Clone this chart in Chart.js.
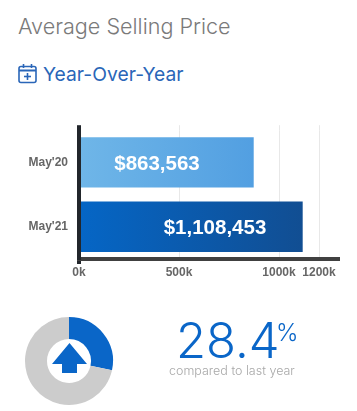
<!DOCTYPE html>
<html>
<head>
<meta charset="utf-8">
<script src="https://cdn.jsdelivr.net/npm/chart.js@4"></script>
<style>
  html, body { margin: 0; padding: 0; background: #fff; }
  body { position: relative; width: 357px; height: 411px; overflow: hidden; font-family: Inter, sans-serif; }
  .abs { position: absolute; white-space: nowrap; }
  #title { left: 18px; top: 13px; font-size: 21.6px; font-weight: 300; color: #7a7a7a; line-height: 26px; }
  #sub { left: 43px; top: 63px; font-size: 19.3px; font-weight: 400; color: #2a66b8; line-height: 22px; }
  #icon { left: 18px; top: 63px; }
  #barWrap { left: 0; top: 120px; width: 357px; height: 162px; }
  #pieWrap { left: 15px; top: 307px; width: 108px; height: 108px; }
  #arrow { left: 52px; top: 343px; }
  #pct { left: 176px; top: 311px; font-size: 49px; font-weight: 300; color: #0a66c8; line-height: 60px; }
  #pctSign { left: 276px; top: 318px; font-size: 24px; font-weight: 300; color: #0a66c8; line-height: 30px; }
  #note { left: 169px; top: 362px; font-size: 12.5px; font-weight: 300; color: #a8a8a8; line-height: 18px; }
</style>
</head>
<body>
<div class="abs" id="title">Average Selling Price</div>
<svg class="abs" id="icon" width="19" height="21" viewBox="0 0 19 21" fill="none" stroke="#2a66b8" stroke-width="1.6">
  <rect x="1" y="3.5" width="17" height="16" rx="2"/>
  <line x1="1" y1="7.5" x2="18" y2="7.5" stroke-width="2"/>
  <line x1="5.5" y1="1" x2="5.5" y2="5"/>
  <line x1="13.5" y1="1" x2="13.5" y2="5"/>
  <line x1="9.5" y1="10" x2="9.5" y2="17"/>
  <line x1="6" y1="13.5" x2="13" y2="13.5"/>
</svg>
<div class="abs" id="sub">Year-Over-Year</div>

<div class="abs" id="barWrap"><canvas id="chart_Price"></canvas></div>
<div class="abs" id="pieWrap"><canvas id="chart_Change"></canvas></div>
<svg class="abs" id="arrow" width="35" height="30" viewBox="0 0 35 30">
  <polygon points="17.5,0 35,21 25,21 25,30 10,30 10,21 0,21" fill="#0a66c8"/>
</svg>

<div class="abs" id="pct">28.4</div>
<div class="abs" id="pctSign">%</div>
<div class="abs" id="note">compared to last year</div>

<script>
var categories = ["May'20", "May'21"];
var prices = [863563, 1108453];
var priceLabels = ["$863,563", "$1,108,453"];
var tickValues = [0, 500000, 1000000, 1200000];
var changeValues = [28.4, 71.6];
var barColors = [["#6fb6e8", "#4494de"], ["#0566c6", "#134a8a"]];
var changeColors = ["#0a66c8", "#cccccc"];

function barGradient(context) {
  var chart = context.chart;
  var area = chart.chartArea;
  if (!area) return barColors[context.dataIndex][0];
  var el = chart.getDatasetMeta(0).data[context.dataIndex];
  var end = el && el.x > area.left ? el.x : area.right;
  var g = chart.ctx.createLinearGradient(area.left, 0, end, 0);
  g.addColorStop(0, barColors[context.dataIndex][0]);
  g.addColorStop(1, barColors[context.dataIndex][1]);
  return g;
}

// white price text on each bar, placed on the x scale
var barText = {
  id: 'barText',
  afterDatasetsDraw: function (chart, args, opts) {
    var ctx = chart.ctx;
    var meta = chart.getDatasetMeta(0);
    ctx.save();
    ctx.fillStyle = '#fff';
    ctx.font = 'bold 20.5px "Liberation Sans"';
    ctx.textAlign = 'center';
    ctx.textBaseline = 'middle';
    for (var i = 0; i < meta.data.length; i++) {
      ctx.fillText(priceLabels[i], chart.scales.x.getPixelForValue(opts.at[i]), meta.data[i].y + 2);
    }
    ctx.restore();
  }
};

// grid lines and the y axis stick out a little past the plot area
var axisExtend = {
  id: 'axisExtend',
  beforeDraw: function (chart) {
    var ctx = chart.ctx;
    var area = chart.chartArea;
    var x = chart.scales.x;
    ctx.save();
    ctx.strokeStyle = '#e8e8e8';
    ctx.lineWidth = 1;
    for (var i = 1; i < tickValues.length; i++) {
      var px = Math.round(x.getPixelForValue(tickValues[i])) + 0.5;
      ctx.beginPath();
      ctx.moveTo(px, area.top - 5);
      ctx.lineTo(px, area.top);
      ctx.stroke();
    }
    ctx.strokeStyle = '#22262b';
    ctx.lineWidth = 4;
    ctx.beginPath();
    ctx.moveTo(area.left, area.top - 5);
    ctx.lineTo(area.left, area.bottom + 5);
    ctx.stroke();
    ctx.restore();
  }
};

new Chart(document.getElementById("chart_Price"), {
  type: 'bar',
  data: {
    labels: categories,
    datasets: [{
      label: "Average Selling Price",
      data: prices,
      backgroundColor: barGradient,
      barPercentage: 0.72,
      categoryPercentage: 1,
      inflateAmount: 2
    }]
  },
  options: {
    indexAxis: 'y',
    responsive: true,
    maintainAspectRatio: false,
    animation: false,
    layout: { padding: { left: 0, right: 18, top: 6, bottom: 0 } },
    plugins: {
      legend: { display: false },
      tooltip: { enabled: false },
      barText: { at: [390000, 680000] }
    },
    scales: {
      x: {
        min: 0,
        max: 1300000,
        afterFit: function (axis) { axis.height = 23; },
        afterBuildTicks: function (axis) {
          axis.ticks = tickValues.map(function (v) { return { value: v }; });
        },
        grid: { color: '#e8e8e8', lineWidth: 1, drawTicks: false },
        border: { color: '#404040', width: 4, z: 1 },
        ticks: {
          autoSkip: false,
          maxRotation: 0,
          padding: 6,
          color: '#666',
          font: { family: '"Liberation Sans"', size: 12, weight: 'bold' },
          callback: function (v) { return (v / 1000) + 'k'; }
        }
      },
      y: {
        afterFit: function (axis) { axis.width = 79; },
        grid: { display: false },
        border: { color: '#22262b', width: 4, z: 1 },
        ticks: {
          padding: 3,
          color: '#666',
          font: { family: '"Liberation Sans"', size: 12, weight: 'bold' }
        }
      }
    }
  },
  plugins: [barText, axisExtend]
});

new Chart(document.getElementById("chart_Change"), {
  type: 'doughnut',
  data: {
    labels: ["change", "rest"],
    datasets: [{ data: changeValues, backgroundColor: changeColors, borderWidth: 0 }]
  },
  options: {
    responsive: true,
    maintainAspectRatio: false,
    animation: false,
    cutout: '50%',
    layout: { padding: 10 },
    plugins: { legend: { display: false }, tooltip: { enabled: false } }
  }
});
</script>
</body>
</html>
